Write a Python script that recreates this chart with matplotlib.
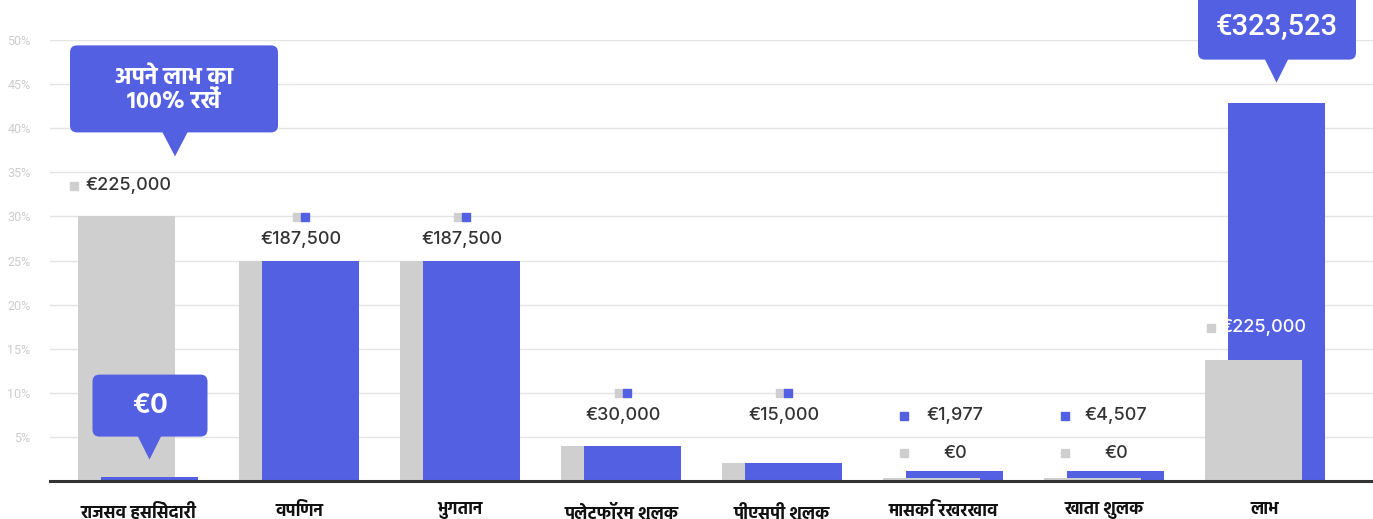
import matplotlib
matplotlib.use("Agg")
import matplotlib.pyplot as plt
from matplotlib import font_manager as fm
from matplotlib.patches import FancyBboxPatch, Polygon
from matplotlib.transforms import IdentityTransform

# ---------------- data ----------------
categories = ["राजसव हसिसेदारी", "वपिणन", "भुगतान", "पलेटफॉर्म शुलक",
              "पीएसपी शुलक", "मासकि रखरखाव", "खाता शुलक", "लाभ"]
competitor_pct = [30, 25, 25, 4, 2, 0.35, 0.35, 13.7]
ours_pct = [0.5, 25, 25, 4, 2, 1.1, 1.1, 42.9]
competitor_eur = [225000, 187500, 187500, 30000, 15000, 0, 0, 225000]
ours_eur = [0, 187500, 187500, 30000, 15000, 1977, 4507, 323523]
yticks = [5, 10, 15, 20, 25, 30, 35, 40, 45, 50]
keep_text = "अपने लाभ का\n100% रखें"

GRAY = "#CFCFCF"
BLUE = "#5360E1"
DARK = "#333333"

# ---------------- fonts ----------------
bold_ok = {}
for f in fm.fontManager.ttflist:
    if isinstance(f.weight, int) and f.weight >= 600:
        bold_ok[f.name] = True
installed = {f.name for f in fm.fontManager.ttflist}
pref = ["Noto Sans Devanagari", "Hind", "Mukta", "Poppins", "FreeSans"]
deva = [p for p in pref if p in installed and bold_ok.get(p)][:1]
if not deva:
    deva = [p for p in pref if p in installed][:1]
DEVA = deva + ["DejaVu Sans"]
plt.rcParams["font.family"] = ["Inter"] + DEVA

# ---------------- figure ----------------
W, H = 1373, 519
fig = plt.figure(figsize=(W / 100, H / 100), dpi=100)
ax = fig.add_axes([50 / W, 1 - 481 / H, 1 - 50 / W, (481 - 40) / H])
ax.set_ylim(0, 50)
ax.set_xlim(-88 / 161, (W - 138) / 161)

PX = 1 / 161.0          # data-x per pixel
PY = 50 / 441.0         # data-y per pixel
off = 11.5 * PX
bw = 97 * PX
n = len(categories)
xs = list(range(n))

gbars = ax.bar([x - off for x in xs], competitor_pct, width=bw, color=GRAY, linewidth=0)
bbars = ax.bar([x + off for x in xs], ours_pct, width=bw, color=BLUE, linewidth=0)
for i in range(n):
    g, b = gbars[i], bbars[i]
    if competitor_pct[i] < ours_pct[i]:
        g.set_zorder(4); b.set_zorder(3)
    else:
        g.set_zorder(3); b.set_zorder(4)

# grid / axes styling
ax.set_yticks(yticks)
ax.set_yticklabels([f"{t}%" for t in yticks], fontsize=9, color="#CCCCCC",
                   family=["Roboto"])
ax.yaxis.grid(True, color="#E4E4E4", linewidth=1)
ax.set_axisbelow(True)
for s in ["left", "right", "top"]:
    ax.spines[s].set_visible(False)
ax.spines["bottom"].set_color(DARK)
ax.spines["bottom"].set_linewidth(2.2)
ax.spines["bottom"].set_zorder(6)
ax.tick_params(axis="y", length=0, pad=14)
ax.tick_params(axis="x", length=0, pad=15)
ax.set_xticks(xs)
ax.set_xticklabels(categories, fontsize=12.5, fontweight="bold", color="#111111",
                   family=DEVA)

def eur(v):
    return f"€{v:,}"

def ypx(py):
    return (481 - py) * PY

def square(x, y, color):
    ax.plot([x], [y], marker="s", markersize=6.2, color=color, linestyle="none",
            zorder=7, clip_on=False)

def label(x, y, txt, color=DARK, ha="center"):
    ax.text(x, y, txt, fontsize=13, color=color, ha=ha, va="center",
            family=["Inter"], fontweight=500, zorder=8)

# value labels
for i in range(n):
    if i == 0:
        square(i - 64 * PX, ypx(186), GRAY)
        label(i - 53 * PX, ypx(186), eur(competitor_eur[i]), ha="left")
    elif competitor_eur[i] == ours_eur[i]:
        ysq = ypx(217) if competitor_pct[i] > 10 else ypx(393)
        square(i - 2.5 * PX, ysq, GRAY)
        square(i + 6 * PX, ysq, BLUE)
        label(i + 2 * PX, ysq - 23 * PY, eur(competitor_eur[i]))
    elif i == n - 1:
        square(i - 54 * PX, ypx(328), GRAY)
        label(i - 1.5 * PX, ypx(328), eur(competitor_eur[i]), color="white")
    else:
        square(i - 39.5 * PX, ypx(416), BLUE)
        label(i + 11.5 * PX, ypx(416), eur(ours_eur[i]))
        square(i - 39.5 * PX, ypx(453), GRAY)
        label(i + 12 * PX, ypx(453), eur(competitor_eur[i]))

# ---------------- callouts ----------------
fig.canvas.draw()
ID = IdentityTransform()

def callout(xd, yd, rise, bwid, bhgt, ptr_h, half, txt, fs, weight, fam, dx=0, ls=1.1):
    tx, ty = ax.transData.transform((xd, yd))
    ty += rise
    by = ty + ptr_h
    cx = tx + dx
    box = FancyBboxPatch((cx - bwid / 2, by), bwid, bhgt,
                         boxstyle="round,pad=0,rounding_size=7",
                         facecolor=BLUE, edgecolor="none", transform=ID,
                         zorder=9, clip_on=False)
    fig.add_artist(box)
    tri = Polygon([[tx - half, by + 1], [tx + half, by + 1], [tx, ty]],
                  closed=True, facecolor=BLUE, edgecolor="none", transform=ID,
                  zorder=9, clip_on=False)
    fig.add_artist(tri)
    fig.text(cx / W, (by + bhgt / 2) / H, txt, ha="center", va="center",
             fontsize=fs, fontweight=weight, color="white", family=fam,
             linespacing=ls, zorder=10)

callout(0 - off + bw / 2, competitor_pct[0], 60, 208, 87, 24, 13,
        keep_text, 17, "bold", DEVA, dx=-1, ls=1.1)
callout(0 + off, ours_pct[0], 17, 115, 62, 23, 12,
        eur(ours_eur[0]), 19, "bold", ["Inter"], dx=0.5)
callout(n - 1 + off, ours_pct[-1], 20, 158, 66, 23, 12,
        eur(ours_eur[-1]), 21, 500, ["Roboto"], dx=0.5)

fig.savefig("out.png", dpi=100)
